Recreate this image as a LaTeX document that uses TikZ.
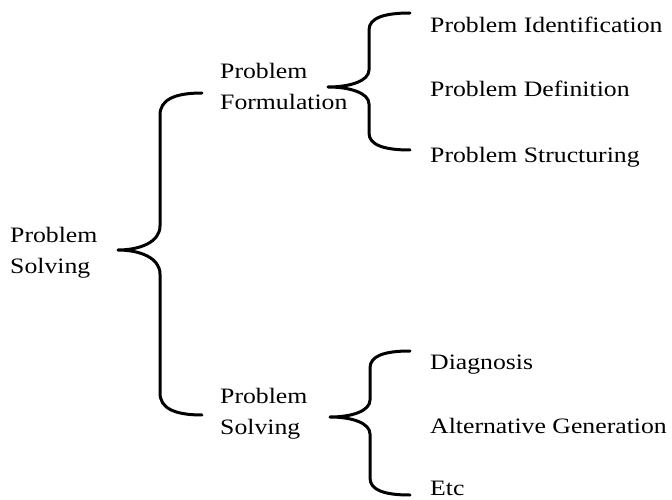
\documentclass[tikz,border=0pt]{standalone}
\usepackage{fontspec}
\setmainfont{Liberation Serif}[FakeStretch=1.17]
\begin{document}
\begin{tikzpicture}[x=1pt,y=-1pt,
  label/.style={inner sep=0pt, anchor=base west, align=left,
    font=\fontsize{22}{31}\selectfont},
  item/.style={inner sep=0pt, anchor=base west,
    font=\fontsize{22}{31}\selectfont},
  brace/.style={line width=3pt, line cap=round, line join=round}]
\useasboundingbox (0,0) rectangle (672,500);

% labels (anchored at the baseline of their last line)
\node[label] (root) at (10,273) {Problem\\Solving};
\node[label] (form) at (220,110) {Problem\\Formulation};
\node[label] (solv) at (220,434) {Problem\\Solving};

\node[item] (ident) at (430,33) {Problem Identification};
\node[item] (defn)  at (430,97) {Problem Definition};
\node[item] (struc) at (430,162) {Problem Structuring};
\node[item] (diag)  at (430,369) {Diagnosis};
\node[item] (alt)   at (430,433) {Alternative Generation};
\node[item] (etc)   at (430,495) {Etc};

% brace anchor points: tip, upper end, lower end
\coordinate (rtip) at (118,250);
\coordinate (rtop) at (202,93);
\coordinate (rbot) at (202,415);
\coordinate (ftip) at (328,87);
\coordinate (ftop) at (410,13);
\coordinate (fbot) at (410,150);
\coordinate (stip) at (330,417);
\coordinate (stop) at (410,351);
\coordinate (sbot) at (410,495);

% large brace
\draw[brace] (rtop) .. controls (174,93) and (160,100) .. (160,115)
  -- (160,226) .. controls (160,242) and (140,250) .. (rtip)
  .. controls (140,250) and (160,258) .. (160,274)
  -- (160,393) .. controls (160,408) and (174,415) .. (rbot);

% upper small brace
\draw[brace] (ftop) .. controls (384,13) and (369,18) .. (369,30)
  -- (369,70) .. controls (369,81) and (350,87) .. (ftip)
  .. controls (350,87) and (369,93) .. (369,104)
  -- (369,133) .. controls (369,145) and (384,150) .. (fbot);

% lower small brace
\draw[brace] (stop) .. controls (384,351) and (370,356) .. (370,368)
  -- (370,400) .. controls (370,411) and (352,417) .. (stip)
  .. controls (352,417) and (370,423) .. (370,434)
  -- (370,478) .. controls (370,490) and (384,495) .. (sbot);
\end{tikzpicture}
\end{document}
